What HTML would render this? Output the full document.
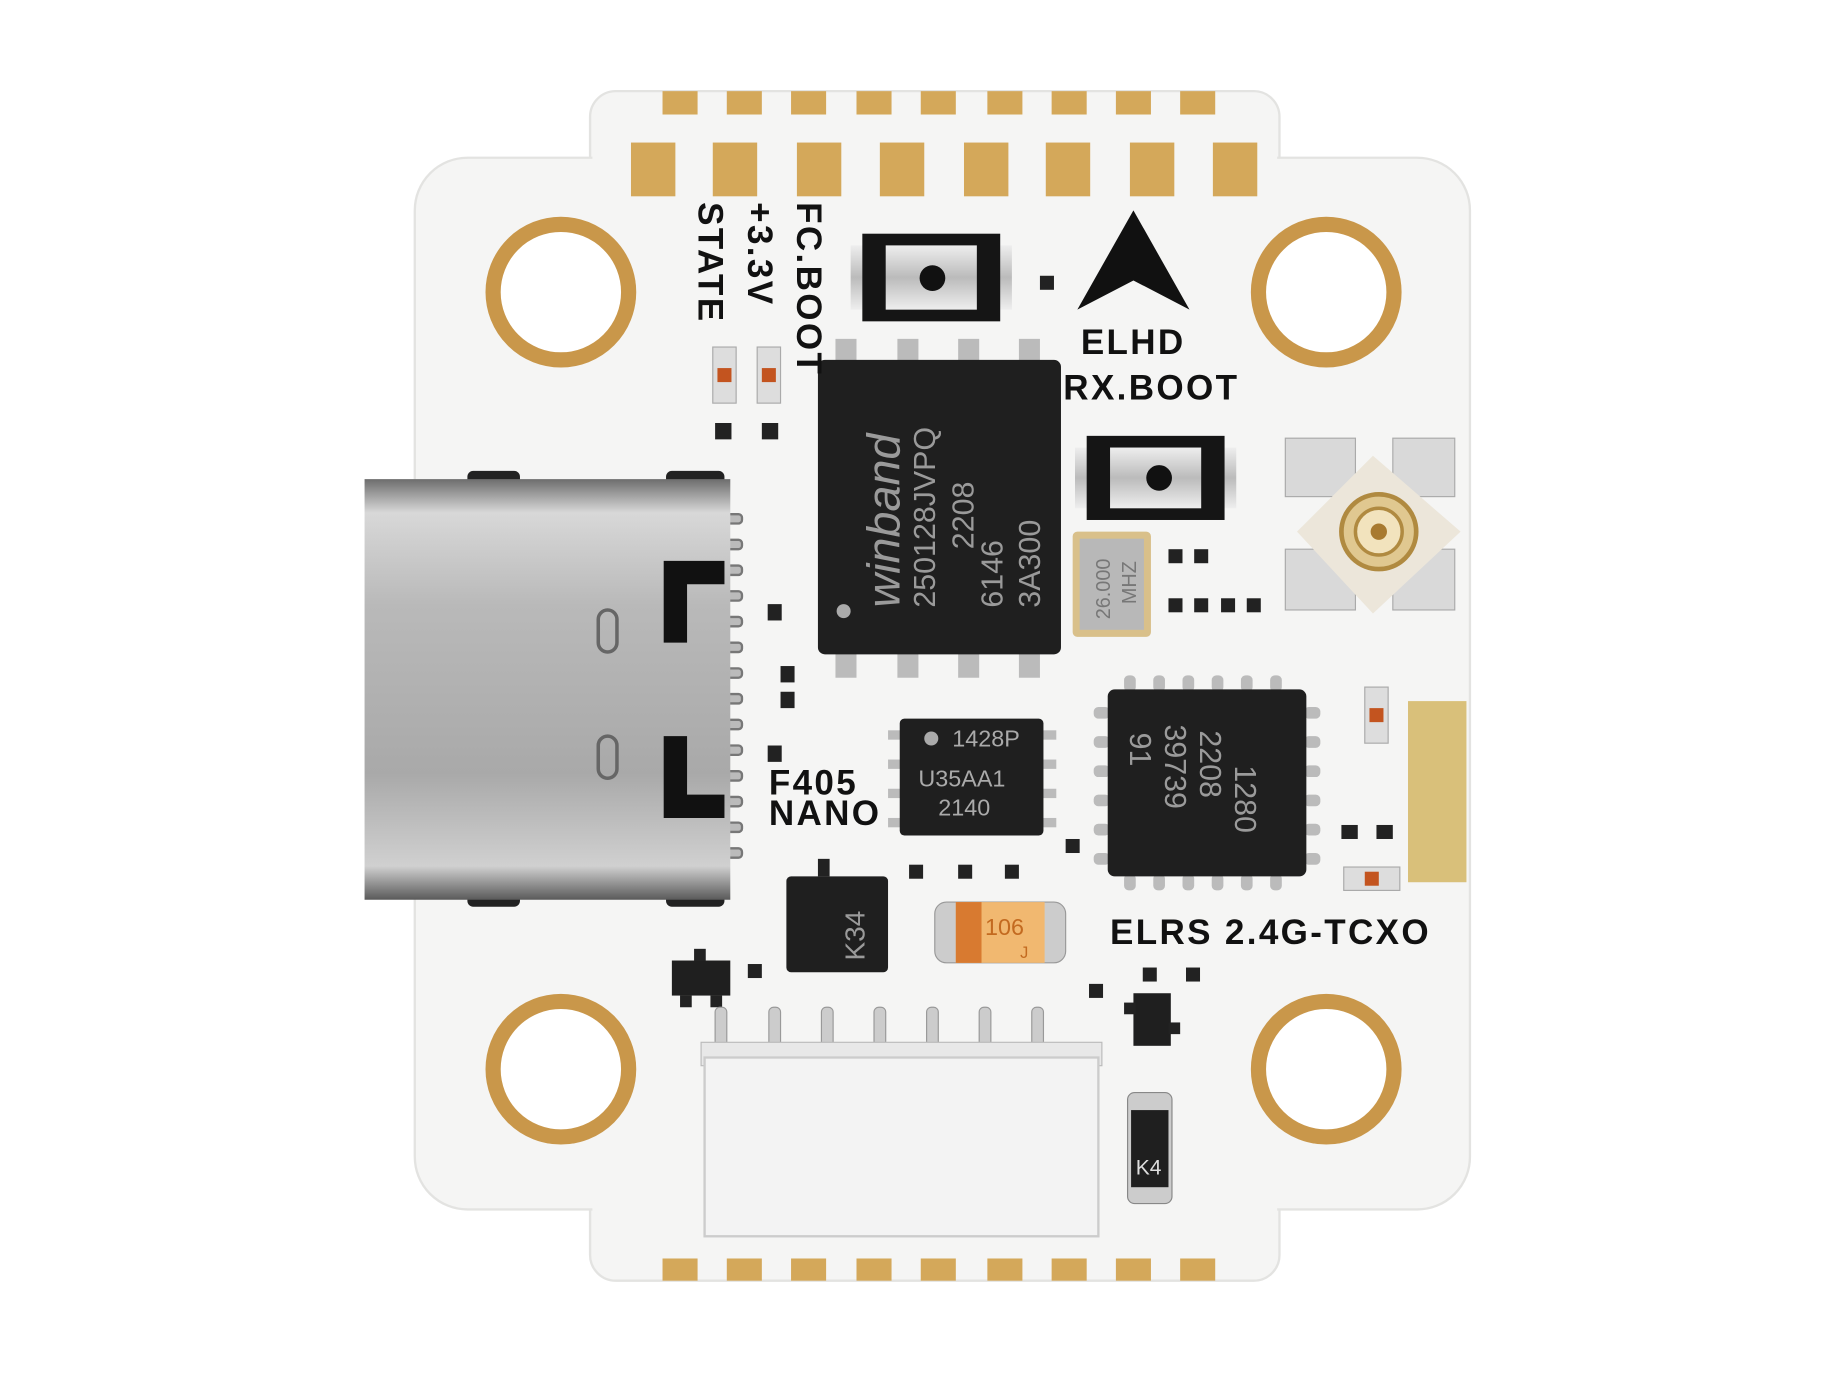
<!DOCTYPE html>
<html><head><meta charset="utf-8"><style>
html,body{margin:0;padding:0;background:#fff}
svg{display:block}
text{font-family:"Liberation Sans",sans-serif}
</style></head><body>
<svg width="1831" height="1373" viewBox="0 0 1567 1175" preserveAspectRatio="none" xmlns="http://www.w3.org/2000/svg">
<defs>
<linearGradient id="usb" x1="0" y1="0" x2="0" y2="1">
<stop offset="0" stop-color="#6d6d6d"/><stop offset="0.08" stop-color="#d8d8d8"/><stop offset="0.3" stop-color="#b9b9b9"/><stop offset="0.7" stop-color="#a9a9a9"/><stop offset="0.92" stop-color="#d0d0d0"/><stop offset="1" stop-color="#5a5a5a"/>
</linearGradient>
<linearGradient id="btn" x1="0" y1="0" x2="0" y2="1">
<stop offset="0" stop-color="#eee"/><stop offset="0.5" stop-color="#bbb"/><stop offset="1" stop-color="#eee"/>
</linearGradient>
</defs>
<rect width="1567" height="1175" fill="#fff"/>
<g fill="#f5f5f4" stroke="#e3e3e1" stroke-width="2">
<rect x="505" y="78" width="590" height="1018" rx="22"/>
<rect x="355" y="135" width="903" height="900" rx="45"/>
</g>
<rect x="507" y="80" width="586" height="1014" rx="20" fill="#f5f5f4"/>
<g fill="#d4a85a">
<rect x="567" y="78" width="30" height="20"/><rect x="622" y="78" width="30" height="20"/><rect x="677" y="78" width="30" height="20"/><rect x="733" y="78" width="30" height="20"/><rect x="788" y="78" width="30" height="20"/><rect x="845" y="78" width="30" height="20"/><rect x="900" y="78" width="30" height="20"/><rect x="955" y="78" width="30" height="20"/><rect x="1010" y="78" width="30" height="20"/>
<rect x="540" y="122" width="38" height="46"/><rect x="610" y="122" width="38" height="46"/><rect x="682" y="122" width="38" height="46"/><rect x="753" y="122" width="38" height="46"/><rect x="825" y="122" width="38" height="46"/><rect x="895" y="122" width="38" height="46"/><rect x="967" y="122" width="38" height="46"/><rect x="1038" y="122" width="38" height="46"/>
<rect x="567" y="1077" width="30" height="19"/><rect x="622" y="1077" width="30" height="19"/><rect x="677" y="1077" width="30" height="19"/><rect x="733" y="1077" width="30" height="19"/><rect x="788" y="1077" width="30" height="19"/><rect x="845" y="1077" width="30" height="19"/><rect x="900" y="1077" width="30" height="19"/><rect x="955" y="1077" width="30" height="19"/><rect x="1010" y="1077" width="30" height="19"/>
<rect x="1205" y="600" width="50" height="155" fill="#d9c07a"/>
</g>
<g fill="#fff" stroke="#c9974a" stroke-width="13">
<circle cx="480" cy="250" r="58"/><circle cx="1135" cy="250" r="58"/><circle cx="480" cy="915" r="58"/><circle cx="1135" cy="915" r="58"/>
</g>
<rect x="400" y="403" width="45" height="14" rx="5" fill="#222"/><rect x="570" y="403" width="50" height="14" rx="5" fill="#222"/>
<rect x="400" y="762" width="45" height="14" rx="5" fill="#222"/><rect x="570" y="762" width="50" height="14" rx="5" fill="#222"/>
<g fill="#bbb" stroke="#777" stroke-width="2">
<rect x="615" y="440" width="20" height="8" rx="3"/><rect x="615" y="462" width="20" height="8" rx="3"/><rect x="615" y="484" width="20" height="8" rx="3"/><rect x="615" y="506" width="20" height="8" rx="3"/><rect x="615" y="528" width="20" height="8" rx="3"/><rect x="615" y="550" width="20" height="8" rx="3"/><rect x="615" y="572" width="20" height="8" rx="3"/><rect x="615" y="594" width="20" height="8" rx="3"/><rect x="615" y="616" width="20" height="8" rx="3"/><rect x="615" y="638" width="20" height="8" rx="3"/><rect x="615" y="660" width="20" height="8" rx="3"/><rect x="615" y="682" width="20" height="8" rx="3"/><rect x="615" y="704" width="20" height="8" rx="3"/><rect x="615" y="726" width="20" height="8" rx="3"/>
</g>
<path d="M312 410 H625 V770 H312 Z" fill="url(#usb)"/>
<path d="M568 480 H620 V500 H588 V550 H568 Z M568 630 H588 V680 H620 V700 H568 Z" fill="#111"/>
<rect x="512" y="522" width="16" height="36" rx="8" fill="none" stroke="#666" stroke-width="3"/>
<rect x="512" y="630" width="16" height="36" rx="8" fill="none" stroke="#666" stroke-width="3"/>
<g fill="#bbb"><rect x="715" y="290" width="18" height="22"/><rect x="768" y="290" width="18" height="22"/><rect x="820" y="290" width="18" height="22"/><rect x="872" y="290" width="18" height="22"/>
<rect x="715" y="558" width="18" height="22"/><rect x="768" y="558" width="18" height="22"/><rect x="820" y="558" width="18" height="22"/><rect x="872" y="558" width="18" height="22"/></g>
<rect x="700" y="308" width="208" height="252" rx="6" fill="#1f1f1f"/>
<g fill="#9a9a9a" font-size="26">
<text transform="translate(770,520) rotate(-90)" font-size="40" font-style="italic">winband</text>
<text transform="translate(800,520) rotate(-90)">250128JVPQ</text>
<text transform="translate(833,470) rotate(-90)">2208</text>
<text transform="translate(858,520) rotate(-90)">6146</text>
<text transform="translate(890,520) rotate(-90)">3A300</text>
</g>
<circle cx="722" cy="523" r="6" fill="#aaa"/>
<rect x="728" y="210" width="138" height="55" fill="url(#btn)"/><rect x="738" y="200" width="118" height="75" fill="#151515"/><rect x="758" y="210" width="78" height="55" fill="url(#btn)"/><circle cx="798" cy="238" r="11" fill="#111"/>
<rect x="920" y="383" width="138" height="52" fill="url(#btn)"/><rect x="930" y="373" width="118" height="72" fill="#151515"/><rect x="950" y="383" width="78" height="52" fill="url(#btn)"/><circle cx="992" cy="409" r="11" fill="#111"/>
<rect x="890" y="236" width="12" height="12" fill="#222"/>
<polygon points="970,180 922,265 970,240 1018,265" fill="#111"/>
<g font-family="Liberation Sans" font-size="30" font-weight="bold" fill="#111" letter-spacing="2">
<text x="925" y="303">ELHD</text>
<text x="910" y="342">RX.BOOT</text>
<text x="658" y="680">F405</text>
<text x="658" y="706">NANO</text>
<text x="950" y="808">ELRS 2.4G-TCXO</text>
<text transform="translate(682,173) rotate(90)">FC.BOOT</text>
<text transform="translate(640,173) rotate(90)">+3.3V</text>
<text transform="translate(598,173) rotate(90)">STATE</text>
</g>
<g><rect x="610" y="297" width="20" height="48" fill="#ddd" stroke="#aaa"/><rect x="614" y="315" width="12" height="12" fill="#c3541f"/>
<rect x="648" y="297" width="20" height="48" fill="#ddd" stroke="#aaa"/><rect x="652" y="315" width="12" height="12" fill="#c3541f"/>
<rect x="612" y="362" width="14" height="14" fill="#222"/><rect x="652" y="362" width="14" height="14" fill="#222"/>
<rect x="1168" y="588" width="20" height="48" fill="#ddd" stroke="#aaa"/><rect x="1172" y="606" width="12" height="12" fill="#c3541f"/>
<rect x="1150" y="742" width="48" height="20" fill="#ddd" stroke="#aaa"/><rect x="1168" y="746" width="12" height="12" fill="#c3541f"/></g>
<rect x="918" y="455" width="67" height="90" rx="4" fill="#d9c08a"/><rect x="924" y="461" width="55" height="78" fill="#b8b8b8"/>
<text transform="translate(950,530) rotate(-90)" font-size="17" fill="#777">26.000</text>
<text transform="translate(972,517) rotate(-90)" font-size="17" fill="#777">MHZ</text>
<g fill="#222"><rect x="1000" y="470" width="12" height="12"/><rect x="1022" y="470" width="12" height="12"/><rect x="1000" y="512" width="12" height="12"/><rect x="1022" y="512" width="12" height="12"/><rect x="1045" y="512" width="12" height="12"/><rect x="1067" y="512" width="12" height="12"/>
<rect x="657" y="517" width="12" height="14"/><rect x="668" y="570" width="12" height="14"/><rect x="668" y="592" width="12" height="14"/><rect x="657" y="638" width="12" height="14"/><rect x="912" y="718" width="12" height="12"/><rect x="778" y="740" width="12" height="12"/><rect x="820" y="740" width="12" height="12"/><rect x="860" y="740" width="12" height="12"/><rect x="1148" y="706" width="14" height="12"/><rect x="1178" y="706" width="14" height="12"/><rect x="932" y="842" width="12" height="12"/><rect x="640" y="825" width="12" height="12"/><rect x="978" y="828" width="12" height="12"/><rect x="1015" y="828" width="12" height="12"/></g>
<rect x="1100" y="375" width="60" height="50" fill="#d9d9d9" stroke="#aaa"/><rect x="1192" y="375" width="53" height="50" fill="#d9d9d9" stroke="#aaa"/><rect x="1100" y="470" width="60" height="52" fill="#d9d9d9" stroke="#aaa"/><rect x="1192" y="470" width="53" height="52" fill="#d9d9d9" stroke="#aaa"/>
<polygon points="1175,390 1250,455 1175,525 1110,455" fill="#ece6da"/>
<circle cx="1180" cy="455" r="32" fill="#e0c890" stroke="#b08a40" stroke-width="4"/><circle cx="1180" cy="455" r="20" fill="#f2e3bd" stroke="#b08a40" stroke-width="3"/><circle cx="1180" cy="455" r="7" fill="#a87a30"/>
<g fill="#bbb"><rect x="760" y="625" width="12" height="8"/><rect x="760" y="650" width="12" height="8"/><rect x="760" y="675" width="12" height="8"/><rect x="760" y="700" width="12" height="8"/><rect x="892" y="625" width="12" height="8"/><rect x="892" y="650" width="12" height="8"/><rect x="892" y="675" width="12" height="8"/><rect x="892" y="700" width="12" height="8"/></g>
<rect x="770" y="615" width="123" height="100" rx="4" fill="#1f1f1f"/>
<circle cx="797" cy="632" r="6" fill="#aaa"/>
<g fill="#aaa" font-size="20"><text x="815" y="639">1428P</text><text x="786" y="673">U35AA1</text><text x="803" y="698">2140</text></g>
<g fill="#bbb">
<rect x="962" y="578" width="10" height="14" rx="4"/><rect x="987" y="578" width="10" height="14" rx="4"/><rect x="1012" y="578" width="10" height="14" rx="4"/><rect x="1037" y="578" width="10" height="14" rx="4"/><rect x="1062" y="578" width="10" height="14" rx="4"/><rect x="1087" y="578" width="10" height="14" rx="4"/>
<rect x="962" y="748" width="10" height="14" rx="4"/><rect x="987" y="748" width="10" height="14" rx="4"/><rect x="1012" y="748" width="10" height="14" rx="4"/><rect x="1037" y="748" width="10" height="14" rx="4"/><rect x="1062" y="748" width="10" height="14" rx="4"/><rect x="1087" y="748" width="10" height="14" rx="4"/>
<rect x="936" y="605" width="14" height="10" rx="4"/><rect x="936" y="630" width="14" height="10" rx="4"/><rect x="936" y="655" width="14" height="10" rx="4"/><rect x="936" y="680" width="14" height="10" rx="4"/><rect x="936" y="705" width="14" height="10" rx="4"/><rect x="936" y="730" width="14" height="10" rx="4"/>
<rect x="1116" y="605" width="14" height="10" rx="4"/><rect x="1116" y="630" width="14" height="10" rx="4"/><rect x="1116" y="655" width="14" height="10" rx="4"/><rect x="1116" y="680" width="14" height="10" rx="4"/><rect x="1116" y="705" width="14" height="10" rx="4"/><rect x="1116" y="730" width="14" height="10" rx="4"/></g>
<rect x="948" y="590" width="170" height="160" rx="6" fill="#1f1f1f"/>
<g fill="#9a9a9a" font-size="26"><text transform="translate(1057,655) rotate(90)">1280</text><text transform="translate(1027,625) rotate(90)">2208</text><text transform="translate(997,620) rotate(90)">39739</text><text transform="translate(967,627) rotate(90)">91</text></g>
<rect x="700" y="735" width="10" height="15" fill="#222"/>
<rect x="673" y="750" width="87" height="82" rx="4" fill="#1f1f1f"/>
<text transform="translate(740,822) rotate(-90)" font-size="24" fill="#9a9a9a">K34</text>
<rect x="800" y="772" width="112" height="52" rx="10" fill="#ccc" stroke="#999"/>
<rect x="818" y="772" width="76" height="52" fill="#f1b870"/><rect x="818" y="772" width="22" height="52" fill="#d87a30"/>
<text x="843" y="800" font-size="20" fill="#c36a20">106</text><text x="873" y="820" font-size="14" fill="#c36a20">J</text>
<rect x="575" y="822" width="50" height="30" fill="#1f1f1f"/><rect x="582" y="852" width="10" height="10" fill="#222"/><rect x="608" y="852" width="10" height="10" fill="#222"/><rect x="594" y="812" width="10" height="10" fill="#222"/>
<rect x="970" y="850" width="32" height="45" fill="#1f1f1f"/><rect x="962" y="858" width="10" height="10" fill="#222"/><rect x="1000" y="875" width="10" height="10" fill="#222"/>
<g fill="#ccc" stroke="#999"><rect x="612" y="862" width="10" height="40" rx="4"/><rect x="658" y="862" width="10" height="40" rx="4"/><rect x="703" y="862" width="10" height="40" rx="4"/><rect x="748" y="862" width="10" height="40" rx="4"/><rect x="793" y="862" width="10" height="40" rx="4"/><rect x="838" y="862" width="10" height="40" rx="4"/><rect x="883" y="862" width="10" height="40" rx="4"/></g>
<rect x="600" y="892" width="343" height="20" fill="#e8e8e8" stroke="#bbb"/>
<rect x="603" y="905" width="337" height="153" fill="#f3f3f3" stroke="#ccc" stroke-width="2"/>
<rect x="965" y="935" width="38" height="95" rx="6" fill="#ccc" stroke="#888"/>
<rect x="968" y="950" width="32" height="66" fill="#1f1f1f"/>
<text x="972" y="1005" font-size="18" fill="#ddd">K4</text>
</svg>
</body></html>
